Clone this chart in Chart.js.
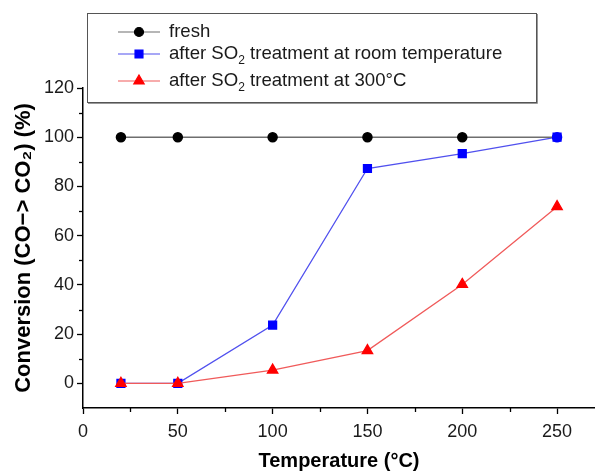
<!DOCTYPE html>
<html>
<head>
<meta charset="utf-8">
<script src="https://cdn.jsdelivr.net/npm/chart.js@4.4.0/dist/chart.umd.min.js"></script>
<style>
  html, body { margin: 0; background: #fff; overflow: hidden; }
  #wrap { width: 595px; height: 471px; position: relative; }
  #convChart { display: block; }
</style>
</head>
<body>
<div id="wrap"><canvas id="convChart"></canvas></div>
<script>
// data
const temps = [20, 50, 100, 150, 200, 250];
const fresh = [100, 100, 100, 100, 100, 100];
const so2Room = [0, 0, 23.7, 87.3, 93.3, 100];
const so2Hot = [0, 0, 5.4, 13.3, 40.2, 71.8];
const seriesNames = ['fresh', 'after SO₂ treatment at room temperature', 'after SO₂ treatment at 300°C'];
const xTicks = [0, 50, 100, 150, 200, 250];
const xMinor = [25, 75, 125, 175, 225];
const yTicks = [0, 20, 40, 60, 80, 100, 120];
const yMinor = [10, 30, 50, 70, 90, 110];

const FONT = "'Liberation Sans', Arial, sans-serif";

const pts = (ys) => temps.map((t, i) => ({ x: t, y: ys[i] }));

// text with a lowered small "2" for the subscript
function drawSubText(ctx, text, x, y, size) {
    const parts = text.split('₂');
    ctx.textBaseline = 'middle';
    ctx.textAlign = 'left';
    parts.forEach((p, i) => {
        ctx.font = size + 'px ' + FONT;
        ctx.fillText(p, x, y);
        x += ctx.measureText(p).width;
        if (i < parts.length - 1) {
            ctx.font = Math.round(size * 0.65) + 'px ' + FONT;
            ctx.fillText('2', x, y + size * 0.35);
            x += ctx.measureText('2').width;
        }
    });
}

// minor ticks + boxed legend
const decorPlugin = {
    id: 'decor',
    afterDraw(chart) {
        const ctx = chart.ctx;
        const xs = chart.scales.x, ys = chart.scales.y;
        const area = chart.chartArea;
        ctx.save();
        ctx.strokeStyle = '#000';
        ctx.lineWidth = 1.3;
        xMinor.forEach(v => {
            const px = Math.round(xs.getPixelForValue(v)) + 0.5;
            ctx.beginPath(); ctx.moveTo(px, area.bottom); ctx.lineTo(px, area.bottom + 4); ctx.stroke();
        });
        yMinor.forEach(v => {
            const py = Math.round(ys.getPixelForValue(v)) + 0.5;
            ctx.beginPath(); ctx.moveTo(area.left, py); ctx.lineTo(area.left - 4, py); ctx.stroke();
        });

        // legend box
        const bx = 87, by = 13, bw = 449, bh = 89;
        ctx.fillStyle = '#fff';
        ctx.fillRect(bx, by, bw, bh);
        ctx.lineWidth = 1;
        ctx.strokeStyle = '#555';
        ctx.strokeRect(bx + 0.5, by + 0.5, bw, bh);
        ctx.strokeStyle = '#999';
        ctx.beginPath(); ctx.moveTo(bx + 1, by + bh + 1.5); ctx.lineTo(bx + bw + 1.5, by + bh + 1.5); ctx.lineTo(bx + bw + 1.5, by + 1); ctx.stroke();

        const rowsY = [32, 54, 81];
        chart.data.datasets.forEach((ds, i) => {
            const y = rowsY[i];
            ctx.strokeStyle = ds.borderColor;
            ctx.lineWidth = 1.2;
            ctx.beginPath(); ctx.moveTo(118, y); ctx.lineTo(160, y); ctx.stroke();
            ctx.fillStyle = ds.legendColor;
            ctx.strokeStyle = ds.legendColor;
            Chart.helpers.drawPoint(ctx, { pointStyle: ds.pointStyle, radius: ds.pointRadius, rotation: 0, borderWidth: 1 }, 139, y);
            ctx.fillStyle = '#1a1a1a';
            drawSubText(ctx, ds.label, 169, y, 18.6);
        });
        ctx.restore();
    }
};

new Chart(document.getElementById('convChart'), {
    type: 'line',
    data: {
        datasets: [
            {
                label: seriesNames[0],
                data: pts(fresh),
                borderColor: '#6e6e6e',
                borderWidth: 1.5,
                pointStyle: 'circle',
                pointRadius: 4.5,
                pointBackgroundColor: ['#000', '#000', '#000', '#000', '#000', '#0000ff'],
                pointBorderColor: ['#000', '#000', '#000', '#000', '#000', '#0000ff'],
                legendColor: '#000',
                order: 1
            },
            {
                label: seriesNames[1],
                data: pts(so2Room),
                borderColor: '#5050ee',
                borderWidth: 1.3,
                pointStyle: 'rect',
                pointRadius: 5.6,
                pointBackgroundColor: '#0000ff',
                pointBorderColor: '#0000ff',
                legendColor: '#0000ff',
                order: 2
            },
            {
                label: seriesNames[2],
                data: pts(so2Hot),
                borderColor: '#f05a5a',
                borderWidth: 1.3,
                pointStyle: 'triangle',
                pointRadius: 6,
                pointBackgroundColor: '#ff0000',
                pointBorderColor: '#ff0000',
                legendColor: '#ff0000',
                order: 0
            }
        ]
    },
    options: {
        responsive: true,
        maintainAspectRatio: false,
        animation: false,
        events: [],
        layout: { autoPadding: false, padding: { top: 88, right: 0, left: 0, bottom: 0 } },
        plugins: {
            legend: { display: false },
            tooltip: { enabled: false }
        },
        scales: {
            x: {
                type: 'linear',
                min: 0,
                max: 270,
                afterBuildTicks: (s) => { s.ticks = xTicks.map(v => ({ value: v })); },
                afterFit: (s) => { s.height = 63; },
                grid: { drawOnChartArea: false, tickLength: 6, tickColor: '#000', tickWidth: 1.3 },
                border: { color: '#000', width: 1.5 },
                ticks: { color: '#1a1a1a', font: { family: FONT, size: 18 }, padding: 7, maxRotation: 0 },
                title: {
                    display: true,
                    text: 'Temperature (°C)',
                    color: '#000',
                    font: { family: FONT, size: 20, weight: 'bold' },
                    padding: { top: 0, bottom: -2 }
                }
            },
            y: {
                min: -10,
                max: 120,
                afterBuildTicks: (s) => { s.ticks = yTicks.map(v => ({ value: v })); },
                afterFit: (s) => { s.width = 83; },
                grid: { drawOnChartArea: false, tickLength: 6, tickColor: '#000', tickWidth: 1.3 },
                border: { color: '#000', width: 1.5 },
                ticks: { color: '#1a1a1a', font: { family: FONT, size: 18 }, padding: 3 },
                title: {
                    display: true,
                    text: 'Conversion (CO−> CO₂) (%)',
                    color: '#000',
                    font: { family: FONT, size: 22, weight: 'bold' },
                    padding: { top: 11, bottom: 0 }
                }
            }
        }
    },
    plugins: [decorPlugin]
});
</script>
</body>
</html>
